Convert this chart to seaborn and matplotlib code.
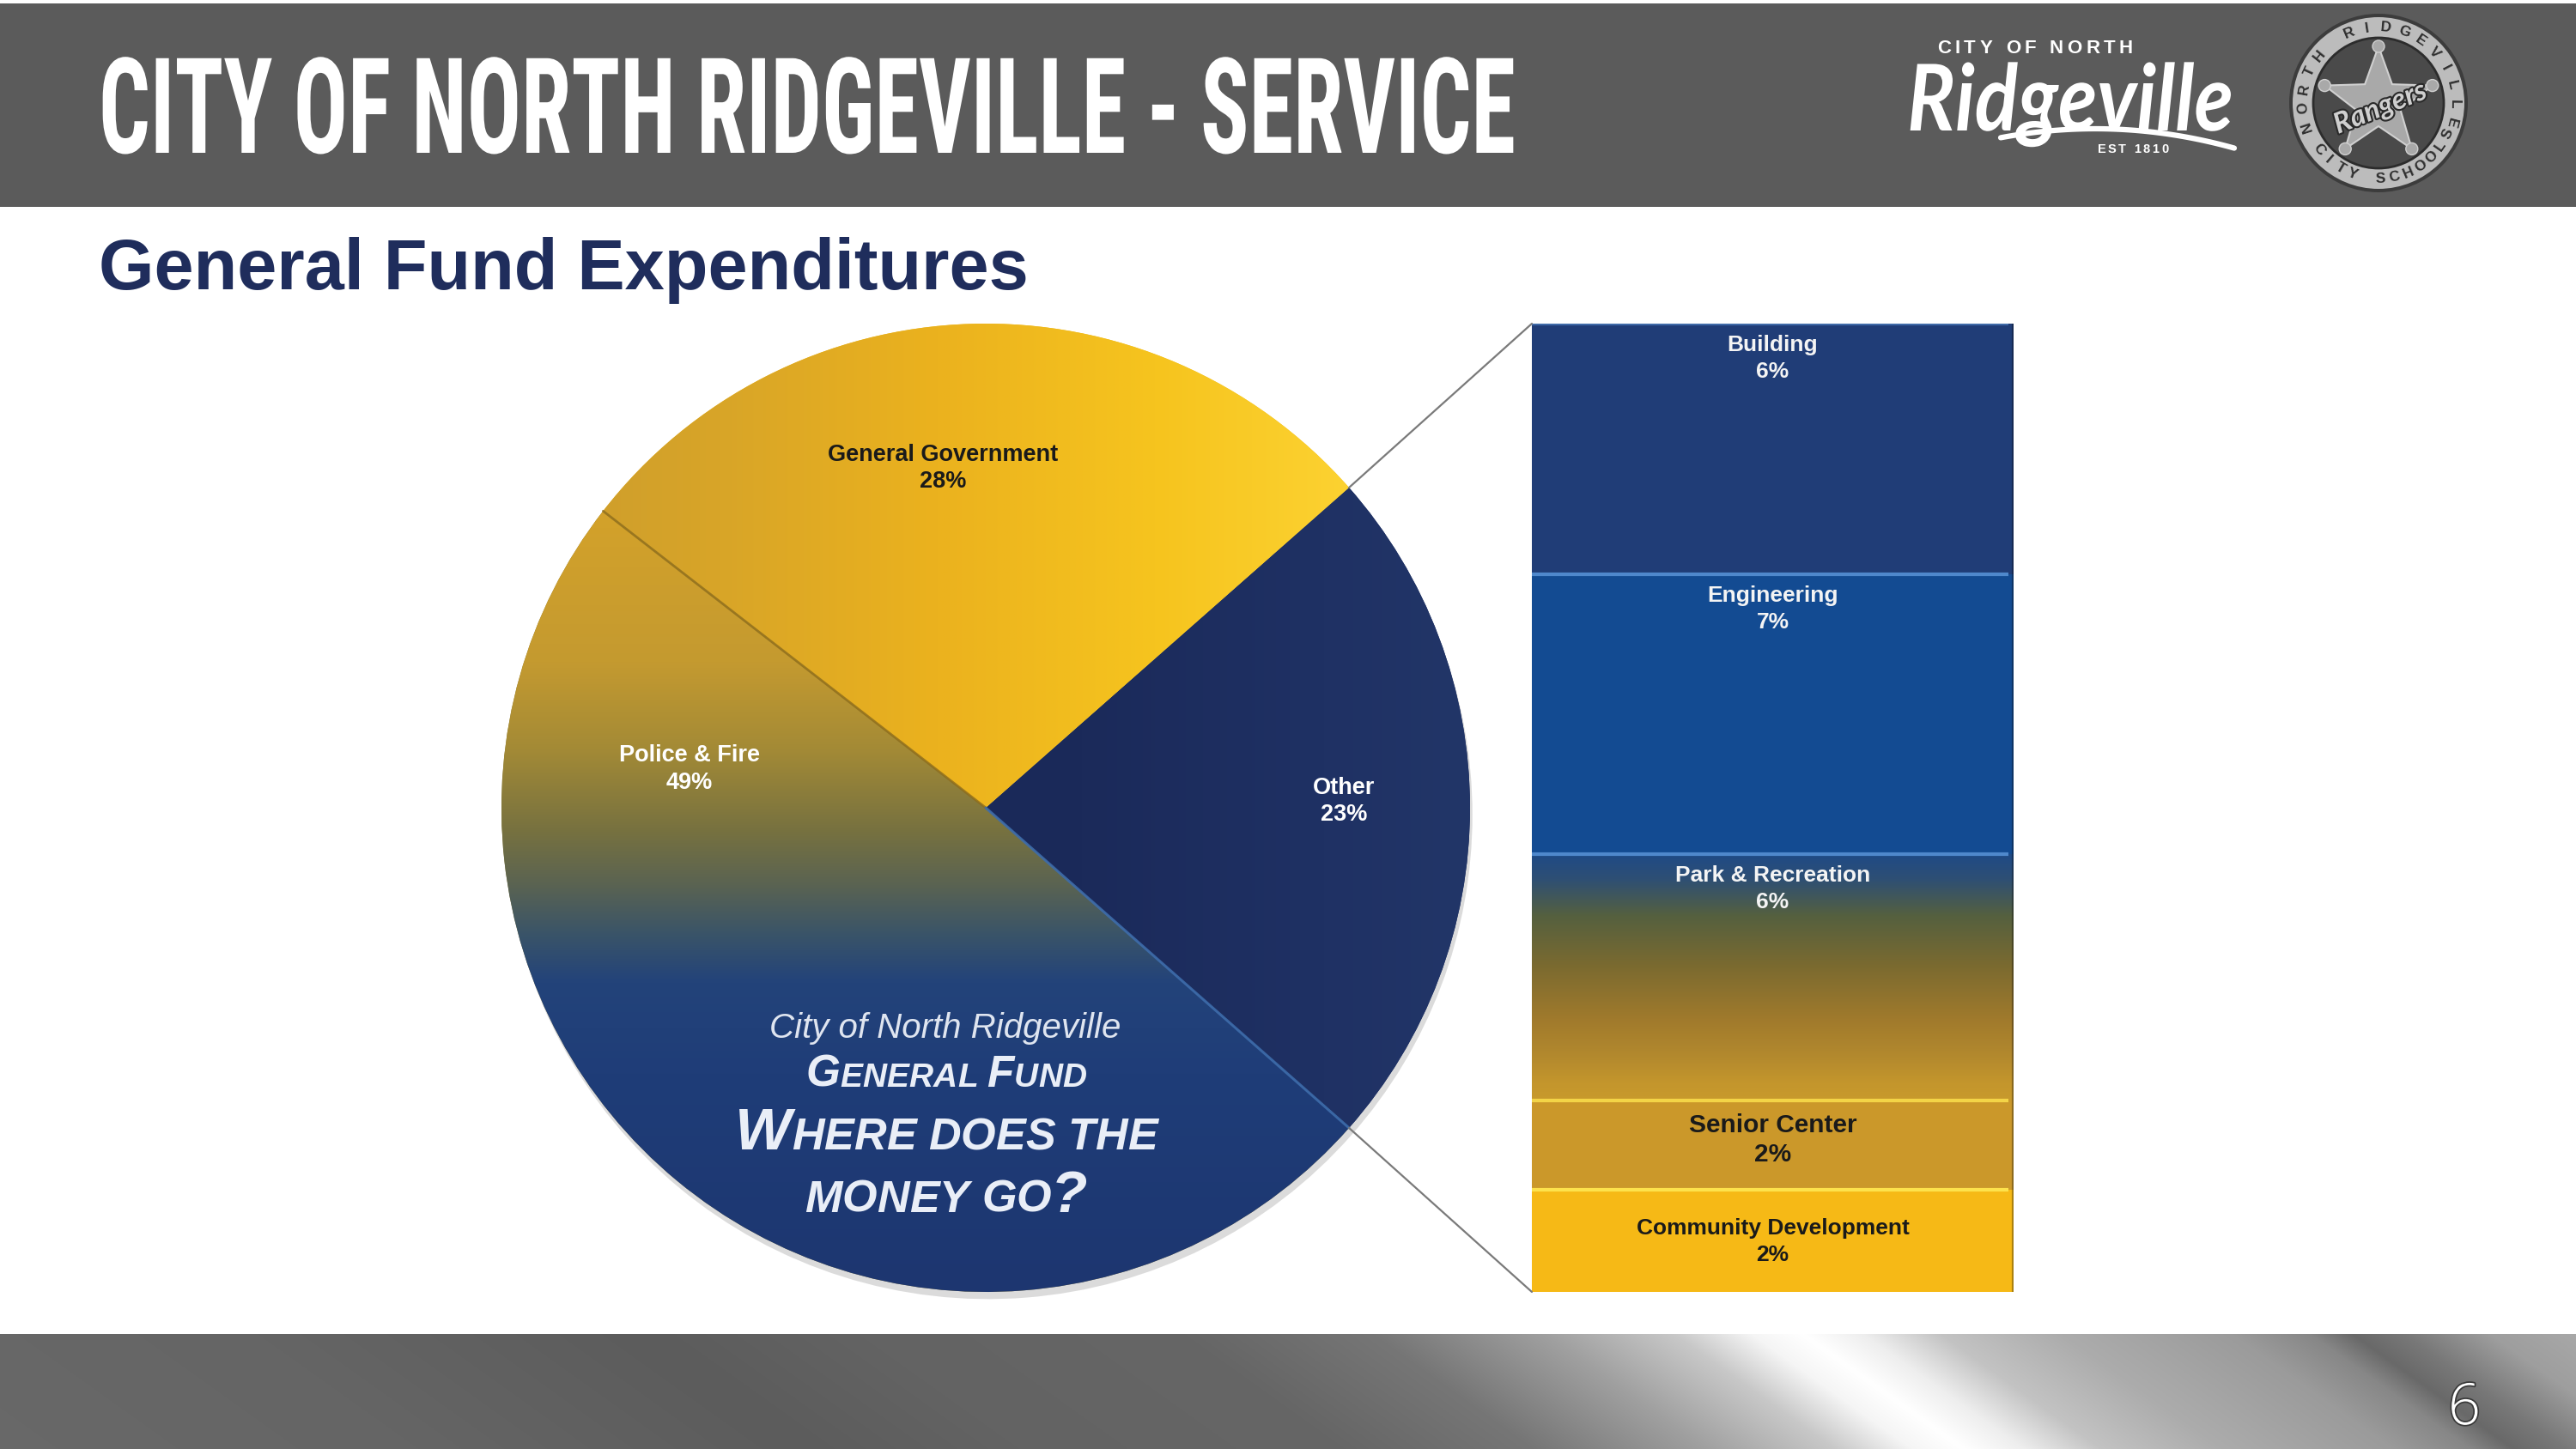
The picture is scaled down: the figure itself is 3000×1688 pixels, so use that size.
import numpy as np
import pandas as pd
import matplotlib
matplotlib.use("Agg")
import matplotlib.pyplot as plt
import matplotlib.patheffects as pe
from matplotlib import font_manager
from matplotlib.patches import Rectangle, Circle, Polygon, ConnectionPatch
from matplotlib.transforms import Affine2D
from matplotlib.colors import to_rgb
import seaborn as sns

# ---------------- data ----------------
pie_categories = ["Other", "General Government", "Police & Fire"]
pie_percent = [23, 28, 49]
other_categories = ["Building", "Engineering", "Park & Recreation",
                    "Senior Center", "Community Development"]
other_values = [5.9, 6.6, 5.8, 2.1, 2.4]
other_percent_labels = ["6%", "7%", "6%", "2%", "2%"]
header_text = "CITY OF NORTH RIDGEVILLE - SERVICE"
subtitle_text = "General Fund Expenditures"
pie_caption = ["City of North Ridgeville", "General Fund", "Where does the", "money go?"]
logo_small = "CITY OF NORTH"
logo_script = "Ridgeville"
logo_est = "EST 1810"
seal_top = "NORTH RIDGEVILLE"
seal_bottom = "CITY SCHOOLS"
seal_center = "Rangers"
page_number = "6"

# ---------------- style ----------------
sns.set_theme(style="white")
names = {f.name for f in font_manager.fontManager.ttflist}


def pick(*cands):
    for c in cands:
        if c in names:
            return c
    return "DejaVu Sans"


SANS = pick("Liberation Sans", "Arimo", "DejaVu Sans")
NARROW = pick("Liberation Sans Narrow", "DejaVu Sans Condensed", "Roboto Condensed", "Liberation Sans")
SCRIPT = pick("Lato", "Open Sans", "DejaVu Sans")
LIGHT = pick("Open Sans", "Lato", "Roboto", "DejaVu Sans")
plt.rcParams["font.family"] = [SANS, "DejaVu Sans"]

W, H = 3000, 1688
fig = plt.figure(figsize=(W / 100, H / 100), dpi=100)
fig.patch.set_facecolor("white")
R = fig.canvas.get_renderer()
PX = 100 / 72.0  # px per point


class VStretch(pe.AbstractPathEffect):
    """Stretch glyphs vertically about the baseline."""
    def __init__(self, sy):
        super().__init__()
        self.sy = sy

    def draw_path(self, renderer, gc, tpath, affine, rgbFace=None):
        renderer.draw_path(gc, tpath, Affine2D().scale(1, self.sy) + affine, rgbFace)


def px_axes(z):
    ax = fig.add_axes([0, 0, 1, 1], zorder=z)
    ax.set_xlim(0, W)
    ax.set_ylim(H, 0)
    ax.axis("off")
    return ax


bg = px_axes(0)

# header band
bg.add_patch(Rectangle((0, 4), W, 237, facecolor="#5b5b5b", edgecolor="none", zorder=1))

# footer band (metallic gradient)
fy0, fy1 = 1554, 1688
X, Y = np.meshgrid(np.arange(W), np.arange(fy0, fy1))
U = X - 1.4 * (Y - fy0)
u_st = [-400, 300, 750, 1000, 1380, 1600, 1800, 1950, 2040, 2100, 2170, 2260, 2400, 2600, 2690, 2740, 2800, 2900, 3000]
g_st = [106, 101, 92, 99, 102, 118, 160, 200, 245, 255, 238, 195, 172, 155, 135, 105, 120, 158, 168]
G = np.interp(U, u_st, g_st) / 255.0
bg.imshow(np.dstack([G, G, G]), extent=(0, W, fy1, fy0), aspect="auto",
          interpolation="bilinear", zorder=1)
bg.set_xlim(0, W)
bg.set_ylim(H, 0)

fg = px_axes(10)
fg.patch.set_alpha(0)

# ---------------- header texts ----------------
t = fg.text(115, 178, header_text, fontsize=112, family=[NARROW, "DejaVu Sans"],
            weight="bold", color="white", ha="left", va="baseline")
w = t.get_window_extent(renderer=R).width
if w > 1650:
    t.set_fontsize(112 * 1650 / w)
cap = t.get_fontsize() * PX * 0.716
t.set_path_effects([VStretch(max(1.0, 111 / cap))])

t = fg.text(115, 337, subtitle_text, fontsize=60, weight="bold", color="#1f2d5c",
            ha="left", va="baseline")
w = t.get_window_extent(renderer=R).width
if w > 1085:
    t.set_fontsize(60 * 1085 / w)

# ---------------- logos ----------------
def spaced(ax, cx, y, s, size, track, **kw):
    objs, widths = [], []
    for ch in s:
        o = ax.text(0, y, ch, fontsize=size, ha="left", va="baseline", **kw)
        wdt = o.get_window_extent(renderer=R).width if ch != " " else 0.3 * size * PX
        objs.append(o)
        widths.append(wdt)
    total = sum(widths) + track * (len(s) - 1)
    x = cx - total / 2
    for o, wdt in zip(objs, widths):
        o.set_x(x)
        x += wdt + track


spaced(fg, 2370, 62, logo_small, 16, 4.5, weight="bold", color="white")
t = fg.text(2411, 152, logo_script, fontsize=60, family=[SCRIPT, "DejaVu Sans"],
            style="italic", weight="bold", color="white", ha="center", va="baseline")
w = t.get_window_extent(renderer=R).width
t.set_fontsize(60 * 380 / w)
t.set_path_effects([VStretch(1.15)])
sx = np.linspace(2330, 2602, 60)
sy = 150 + 22 * ((sx - 2440) / 160) ** 2
fg.plot(sx, sy, color="white", lw=4.5, solid_capstyle="round")
spaced(fg, 2484, 178, logo_est, 10.5, 2.5, weight="bold", color="white")

# seal
cx, cy = 2770, 120
fg.add_patch(Circle((cx, cy), 104, facecolor="#3c3c3c", edgecolor="none"))
fg.add_patch(Circle((cx, cy), 100, facecolor="#bcbcbc", edgecolor="none"))
fg.add_patch(Circle((cx, cy), 76, facecolor="#4a4a4a", edgecolor="#2c2c2c", lw=2))
ang = np.deg2rad(90 + np.arange(10) * 36)
rad = np.where(np.arange(10) % 2 == 0, 66, 27)
fg.add_patch(Polygon(np.c_[cx + rad * np.cos(ang), cy - rad * np.sin(ang)],
                     closed=True, facecolor="#a9a9a9", edgecolor="#d0d0d0", lw=1.5))
for a in ang[::2]:
    fg.add_patch(Circle((cx + 66 * np.cos(a), cy - 66 * np.sin(a)), 7,
                        facecolor="#a9a9a9", edgecolor="#d0d0d0", lw=1))
fg.text(cx + 2, cy + 6, seal_center, fontsize=24, family=[SCRIPT, "DejaVu Sans"],
        style="italic", weight="bold", color="#cfcfcf", rotation=22,
        ha="center", va="center",
        path_effects=[pe.Stroke(linewidth=3, foreground="#2a2a2a"), pe.Normal()])
for i, ch in enumerate(seal_top):
    th = 198 - i * (213 / (len(seal_top) - 1))
    r = np.deg2rad(th)
    fg.text(cx + 88 * np.cos(r), cy - 88 * np.sin(r), ch, fontsize=12.5, weight="bold",
            color="#2e2e2e", rotation=th - 90, rotation_mode="anchor",
            ha="center", va="center")
for i, ch in enumerate(seal_bottom):
    th = 218 + i * (118 / (len(seal_bottom) - 1))
    r = np.deg2rad(th)
    fg.text(cx + 88 * np.cos(r), cy - 88 * np.sin(r), ch, fontsize=12.5, weight="bold",
            color="#2e2e2e", rotation=th + 90, rotation_mode="anchor",
            ha="center", va="center")

# page number
fg.text(2870, 1642, page_number, fontsize=48, family=[LIGHT, "DejaVu Sans"],
        weight="light", color="white", ha="center", va="center",
        path_effects=[pe.Stroke(linewidth=2.5, foreground="#3a3a3a"), pe.Normal()])

# ---------------- pie ----------------
PCX, PCY, PR, HALF = 1148, 941, 564, 600
pax = fig.add_axes([(PCX - HALF) / W, 1 - (PCY + HALF) / H, 2 * HALF / W, 2 * HALF / H], zorder=2)
base_cols = ["#1c2b5c", "#f2bd22", "#8a7c3c"]
wedges, _ = pax.pie(pie_percent, colors=base_cols, startangle=-pie_percent[0] / 100 * 180,
                    counterclock=True, radius=1,
                    wedgeprops=dict(linewidth=0, edgecolor="none"))


def grad_img(stops_pos, stops_col, axis, n=500):
    pos = np.linspace(-1, 1, n)
    cols = np.array([to_rgb(c) for c in stops_col])
    line = np.stack([np.interp(pos, stops_pos, cols[:, k]) for k in range(3)], axis=-1)
    if axis == "x":
        return np.broadcast_to(line[None, :, :], (n, n, 3)).copy()
    return np.broadcast_to(line[:, None, :], (n, n, 3)).copy()


grads = [
    grad_img([-1, 0.2, 0.7, 1.0], ["#1a2756", "#1b2a5a", "#1f3164", "#223668"], "x"),
    grad_img([-1, -0.55, -0.1, 0.35, 0.75, 1.0],
             ["#c99a2e", "#d8a528", "#ebb21e", "#f6c41e", "#fcd231", "#fdd838"], "x"),
    grad_img([-1.0, -0.55, -0.36, -0.26, -0.16, -0.05, 0.12, 0.30, 0.62, 1.0],
             ["#1d3670", "#1f3d78", "#23437a", "#3a5468", "#5a6352", "#767140",
              "#a38a36", "#c49a30", "#d4a22a", "#d4a22a"], "y"),
]
for wdg, img in zip(wedges, grads):
    wdg.set_path_effects([pe.SimplePatchShadow(offset=(2, -6), shadow_rgbFace="#9a9a9a", alpha=0.35),
                          pe.Normal()])
    im = pax.imshow(img, extent=(-1, 1, -1, 1), origin="lower", interpolation="bilinear",
                    zorder=wdg.get_zorder() + 0.1)
    im.set_clip_path(wdg)

# slice boundary lines
gg_pf = np.deg2rad(wedges[1].theta2)
pax.plot([0, np.cos(gg_pf)], [0, np.sin(gg_pf)], color="#8c6c1c", lw=2, alpha=0.8, zorder=5)
ot_pf = np.deg2rad(wedges[0].theta1)
pax.plot([0, np.cos(ot_pf)], [0, np.sin(ot_pf)], color="#3d6cab", lw=2.2, alpha=0.9, zorder=5)
pax.set_xlim(-HALF / PR, HALF / PR)
pax.set_ylim(-HALF / PR, HALF / PR)
pax.set_aspect("equal")
pax.axis("off")

# pie labels
lab_pos = {"General Government": (1098, 530, 561, "#1a1a1a"),
           "Police & Fire": (803, 880, 912, "white"),
           "Other": (1565, 918, 949, "white")}
for cat, pct in zip(pie_categories, pie_percent):
    x, y1, y2, col = lab_pos[cat]
    fg.text(x, y1, cat, fontsize=19.5, weight="bold", color=col, ha="center", va="center")
    fg.text(x, y2, f"{pct}%", fontsize=19.5, weight="bold", color=col, ha="center", va="center")

# caption inside pie (small caps emulation)
CAP_COL = "#e9eef7"
fg.text(1101, 1209, pie_caption[0], fontsize=29, style="italic", color="#dfe5f0",
        ha="center", va="baseline")


def smallcaps(cx, base, s, big, small):
    runs = []
    for ch in s:
        size = big if (ch.isupper() or ch == "?") else small
        runs.append((ch.upper(), size))
    objs, widths = [], []
    for ch, size in runs:
        o = fg.text(0, base, ch, fontsize=size, style="italic", weight="bold",
                    color=CAP_COL, ha="left", va="baseline")
        wdt = o.get_window_extent(renderer=R).width if ch != " " else 0.28 * size * PX
        objs.append(o)
        widths.append(wdt)
    x = cx - sum(widths) / 2
    for o, wdt in zip(objs, widths):
        o.set_x(x)
        x += wdt


smallcaps(1102, 1266, pie_caption[1], 37, 28)
smallcaps(1102, 1339, pie_caption[2], 50, 37.5)
smallcaps(1102, 1412, pie_caption[3], 50, 37.5)

# ---------------- stacked bar (breakdown of "Other") ----------------
BX0, BX1, BY0, BY1 = 1784, 2345, 377, 1505
bax = fig.add_axes([BX0 / W, 1 - BY1 / H, (BX1 - BX0) / W, (BY1 - BY0) / H], zorder=3)
df = pd.DataFrame({"segment": other_categories, "value": other_values,
                   "pct": other_percent_labels})
df["top"] = df["value"][::-1].cumsum()[::-1]
df["bottom"] = df["top"] - df["value"]
total = df["value"].sum()
seg_cols = {"Building": "#203d77", "Engineering": "#134b92", "Park & Recreation": "#a07a2c",
            "Senior Center": "#cb982a", "Community Development": "#f6b916"}
bars = {}
for i, row in df.iterrows():
    n_before = len(bax.patches)
    sns.barplot(x=[0], y=[row["top"]], color=seg_cols[row["segment"]], saturation=1,
                width=1, ax=bax, linewidth=0, edgecolor="none")
    p = bax.patches[n_before]
    p.set_zorder(1 + i)
    bars[row["segment"]] = p
bars["Building"].set_path_effects([pe.SimplePatchShadow(offset=(6, -6), shadow_rgbFace="#8a8a8a",
                                                        alpha=0.45), pe.Normal()])
# gradient for Park & Recreation
pk = df[df["segment"] == "Park & Recreation"].iloc[0]
pos = np.linspace(0, 1, 400)
stops = [0.0, 0.07, 0.17, 0.33, 0.55, 0.75, 0.9, 1.0]
cols = np.array([to_rgb(c) for c in ["#c89a2c", "#c4962c", "#b48a2e", "#a07a2c",
                                     "#7a6a30", "#55603f", "#2e4f74", "#1f4a86"]])
line = np.stack([np.interp(pos, stops, cols[:, k]) for k in range(3)], axis=-1)
img = np.broadcast_to(line[:, None, :], (400, 10, 3)).copy()
im = bax.imshow(img, extent=(-0.5, 0.5, pk["bottom"], pk["top"]), origin="lower",
                aspect="auto", interpolation="bilinear", zorder=3.5)
im.set_clip_path(bars["Park & Recreation"])
# segment top highlights
hl = {"Building": "#3f6aa8", "Engineering": "#4f88cc", "Park & Recreation": "#4f88cc",
      "Senior Center": "#f3d447", "Community Development": "#fde24c"}
for _, row in df.iterrows():
    bax.hlines(row["top"], -0.5, 0.49, color=hl[row["segment"]], lw=3, zorder=8)
bax.axvline(0.5, color="black", alpha=0.3, lw=3, zorder=8)
bax.set_xlim(-0.5, 0.5)
bax.set_ylim(0, total)
bax.axis("off")

# bar labels
for _, row in df.iterrows():
    seg = row["segment"]
    if seg in ("Senior Center", "Community Development"):
        col = "#1a1a1a"
        mid = (row["top"] + row["bottom"]) / 2
        big = 21.5 if seg == "Senior Center" else 19
        off1, off2 = (23, -11) if seg == "Senior Center" else (15, -16)
        bax.annotate(seg, (0, mid), xytext=(0, off1), textcoords="offset pixels",
                     ha="center", va="center", fontsize=big, weight="bold", color=col, zorder=9)
        bax.annotate(row["pct"], (0, mid), xytext=(0, off2), textcoords="offset pixels",
                     ha="center", va="center", fontsize=big, weight="bold", color=col, zorder=9)
    else:
        col = "#f4f4f4"
        bax.annotate(seg, (0, row["top"]), xytext=(0, -25), textcoords="offset pixels",
                     ha="center", va="center", fontsize=19, weight="bold", color=col, zorder=9)
        bax.annotate(row["pct"], (0, row["top"]), xytext=(0, -56), textcoords="offset pixels",
                     ha="center", va="center", fontsize=19, weight="bold", color=col, zorder=9)

# connector lines from the "Other" slice to the bar
for th, yb in ((wedges[0].theta2, total), (wedges[0].theta1, 0)):
    r = np.deg2rad(th)
    con = ConnectionPatch(xyA=(np.cos(r), np.sin(r)), coordsA=pax.transData,
                          xyB=(-0.5, yb), coordsB=bax.transData,
                          color="#7a7a7a", lw=1.6, zorder=20)
    fig.add_artist(con)

fig.savefig("out.png", dpi=100, facecolor="white")
